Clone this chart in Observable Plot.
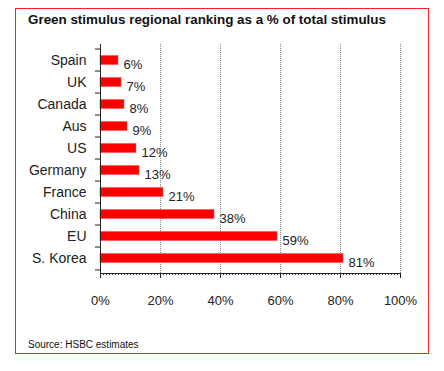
<!DOCTYPE html>
<html>
<head>
<meta charset="utf-8">
<script src="https://cdn.jsdelivr.net/npm/d3@7"></script>
<script src="https://cdn.jsdelivr.net/npm/@observablehq/plot@0.6"></script>
<style>
  html, body { margin: 0; padding: 0; background: #fff; }
  body { width: 444px; height: 371px; position: relative; font-family: "Liberation Sans", Arial, sans-serif; }
  #box { position: absolute; left: 15px; top: 8px; width: 414px; height: 346px; border: 1px solid #ff2020; box-sizing: border-box; }
  #title { position: absolute; left: 28px; top: 12px; font-size: 13.4px; font-weight: bold; color: #111; white-space: nowrap; }
  #chart { position: absolute; left: 0; top: 30px; }
  #source { position: absolute; left: 28px; top: 339px; font-size: 10px; color: #111; white-space: nowrap; }
</style>
</head>
<body>
<div id="box"></div>
<div id="title">Green stimulus regional ranking as a % of total stimulus</div>
<div id="chart"></div>
<div id="source">Source: HSBC estimates</div>
<script>
const categories = ["Spain", "UK", "Canada", "Aus", "US", "Germany", "France", "China", "EU", "S. Korea"];
const values = [6, 7, 8, 9, 12, 13, 21, 38, 59, 81];
const xTicks = [0, 20, 40, 60, 80, 100];

const data = categories.map((c, i) => ({cat: c, v: values[i]}));
const H = 300, mTop = 14, mBottom = 57;
const step = (H - mTop - mBottom) / categories.length;

const chart = Plot.plot({
  width: 440,
  height: H,
  marginLeft: 100,
  marginRight: 40,
  marginTop: mTop,
  marginBottom: mBottom,
  style: {fontFamily: "'Liberation Sans', Arial, sans-serif", fontSize: "13px", color: "#222", background: "transparent"},
  x: {domain: [0, 100]},
  y: {domain: categories, padding: 0},
  marks: [
    Plot.gridX(xTicks.slice(1), {stroke: "#888", strokeOpacity: 1, strokeDasharray: "1,1"}),
    Plot.barX(data, {x: "v", y: "cat", fill: "#ff0000", stroke: "#ff5050", strokeWidth: 0.6, insetTop: 6.5, insetBottom: 6.5}),
    Plot.text(data, {x: "v", y: "cat", text: d => d.v + "%", textAnchor: "start", dx: 5, dy: 4, fill: "#222", fontSize: 13}),
    Plot.axisY({tickSize: 0, tickPadding: 14, fontSize: 14, label: null}),
    Plot.ruleY(categories, {y: d => d, x1: 0, x2: 0, insetLeft: -5, dy: -step / 2, stroke: "#222"}),
    Plot.ruleY(categories.slice(-1), {y: d => d, x1: 0, x2: 0, insetLeft: -5, dy: step / 2, stroke: "#222"}),
    Plot.ruleX([0], {stroke: "#222"}),
    Plot.axisX(d3.range(0, 101, 1), {tickSize: 2, text: null, label: null, stroke: "#444"}),
    Plot.axisX(xTicks, {tickSize: 5, tickPadding: 17, tickFormat: d => d + "%", fontSize: 13, label: null, stroke: "#222"}),
    Plot.frame({anchor: "bottom", stroke: "#222"})
  ]
});
document.getElementById("chart").appendChild(chart);
</script>
</body>
</html>
